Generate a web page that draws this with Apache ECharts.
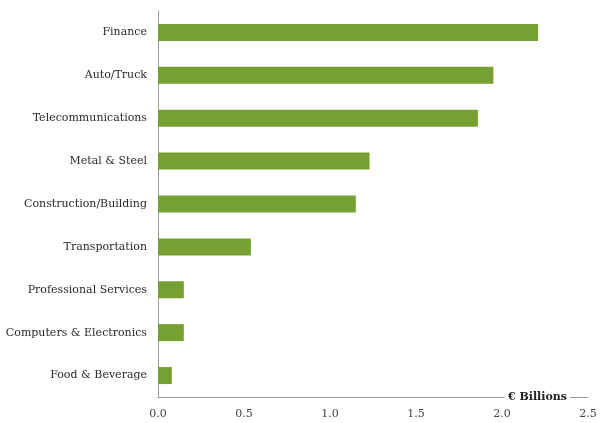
<!DOCTYPE html>
<html>
<head>
<meta charset="utf-8">
<script src="https://cdn.jsdelivr.net/npm/echarts@6/dist/echarts.min.js"></script>
<style>
  html, body { margin: 0; padding: 0; background: #fff; }
  #chart { width: 605px; height: 423px; }
</style>
</head>
<body>
<div id="chart"></div>
<script>
// Sectors, listed bottom to top as the category axis draws them
const sectors = [
  'Food & Beverage',
  'Computers & Electronics',
  'Professional Services',
  'Transportation',
  'Construction/Building',
  'Metal & Steel',
  'Telecommunications',
  'Auto/Truck',
  'Finance'
];
// Value per sector, € billions
const values = [0.08, 0.15, 0.15, 0.54, 1.15, 1.23, 1.86, 1.95, 2.21];
const valueTicks = [0, 0.5, 1.0, 1.5, 2.0, 2.5];
const unitLabel = '€ Billions';

const font = 'DejaVu Serif';
const gridBottom = 26;
const chart = echarts.init(document.getElementById('chart'));
chart.setOption({
  animation: false,
  grid: { left: 158, right: 17, top: 11, bottom: gridBottom, containLabel: false },
  xAxis: {
    type: 'value',
    min: valueTicks[0],
    max: valueTicks[valueTicks.length - 1],
    interval: 0.5,
    axisLine: { show: true, lineStyle: { color: '#9a9a9a', width: 1 } },
    axisTick: { show: false },
    splitLine: { show: false },
    axisLabel: {
      margin: 12,
      color: '#444',
      fontFamily: font,
      fontSize: 11,
      formatter: v => v.toFixed(1)
    }
  },
  yAxis: {
    type: 'category',
    data: sectors,
    axisLine: { show: true, lineStyle: { color: '#9a9a9a', width: 1 } },
    axisTick: { show: false },
    axisLabel: {
      margin: 11,
      color: '#2a2a2a',
      fontFamily: font,
      fontSize: 11
    }
  },
  series: [{
    type: 'bar',
    data: values,
    barWidth: 17,
    itemStyle: { color: '#77a032' }
  }]
});

// Unit label sits on the value axis line, near its far end, masking the line behind it
const axisEndX = chart.convertToPixel({ xAxisIndex: 0 }, valueTicks[valueTicks.length - 1]);
const axisLineY = chart.getHeight() - gridBottom;
chart.setOption({
  graphic: [{
    type: 'text',
    z: 100,
    x: axisEndX - 18,
    y: axisLineY,
    style: {
      text: unitLabel,
      align: 'right',
      verticalAlign: 'middle',
      fontFamily: font,
      fontSize: 11,
      fontWeight: 'bold',
      fill: '#222',
      backgroundColor: '#fff',
      padding: [2, 3, 2, 3]
    }
  }]
});
</script>
</body>
</html>
